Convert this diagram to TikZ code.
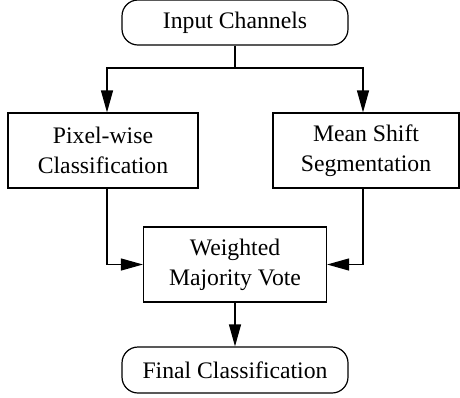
\documentclass[tikz,border=0pt]{standalone}
\usepackage{fontspec}
\setmainfont{Liberation Serif}
\newfontfamily\timesfont{Liberation Serif}
\usetikzlibrary{arrows.meta}
\begin{document}
\begin{tikzpicture}[x=0.5pt,y=-0.5pt,
  every node/.style={font=\timesfont\fontsize{11.85}{15}\selectfont, align=center, inner sep=0pt, line width=0.6pt},
  term/.style={draw, rounded corners=8pt, minimum width=113pt, minimum height=22.5pt},
  proc/.style={draw, minimum height=37.5pt},
  arr/.style={line width=0.6pt, -{Triangle[length=11pt,width=6pt]}},
  con/.style={line width=0.6pt}]
\useasboundingbox (0,0) rectangle (460,397);
\node[term] (in) at (235,22.5) {Input Channels};
\node[proc, minimum width=95pt] (pix) at (103,150.5) {Pixel-wise\\Classification};
\node[proc, minimum width=93pt] (ms) at (366,150.5) {Mean Shift\\Segmentation};
\node[proc, minimum width=91.5pt] (wv) at (235,264.5) {Weighted\\Majority Vote};
\node[term, minimum height=23pt] (fc) at (235,370) {Final Classification};
\coordinate (la) at (107,68);
\coordinate (ra) at (363,68);
\draw[con] (in.south) -- (in.south |- la);
\draw[arr] (in.south |- la) -- (la) -- (la |- pix.north);
\draw[arr] (in.south |- ra) -- (ra) -- (ra |- ms.north);
\draw[arr] (la |- pix.south) |- (wv.west);
\draw[arr] (ra |- ms.south) |- (wv.east);
\draw[arr] (wv.south) -- (fc.north);
\end{tikzpicture}
\end{document}
